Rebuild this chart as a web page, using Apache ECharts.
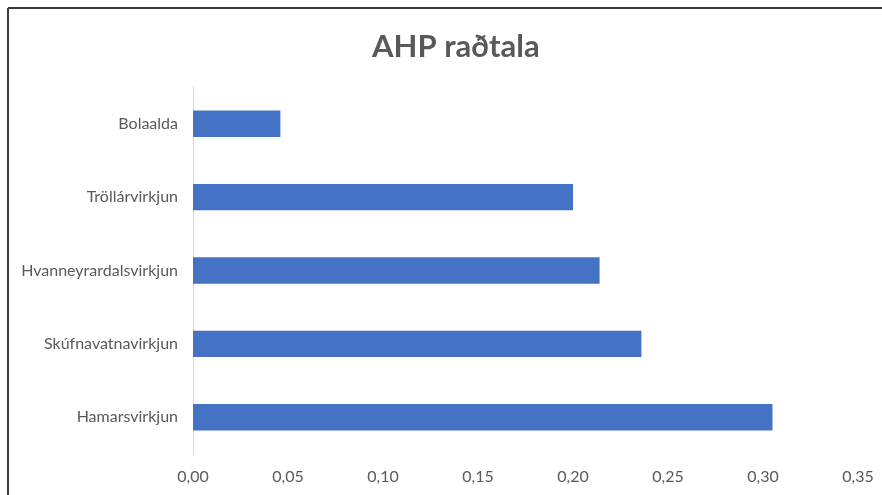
<!DOCTYPE html>
<html>
<head>
<meta charset="utf-8">
<script src="https://cdn.jsdelivr.net/npm/echarts@6/dist/echarts.min.js"></script>
<style>
  html, body { margin: 0; padding: 0; background: #ffffff; }
  #chart { width: 882px; height: 495px; }
</style>
</head>
<body>
<div id="chart"></div>
<script>
// Categories listed bottom to top, as the category axis draws them
const categories = ['Hamarsvirkjun', 'Skúfnavatnavirkjun', 'Hvanneyrardalsvirkjun', 'Tröllárvirkjun', 'Bolaalda'];
const ahpValues = [0.305, 0.236, 0.214, 0.200, 0.046];
const xTicks = { min: 0, max: 0.35, interval: 0.05 };
const titleText = 'AHP raðtala';

const chart = echarts.init(document.getElementById('chart'), null, { renderer: 'canvas' });
const labelFont = 'Lato, "Noto Sans", sans-serif';

chart.setOption({
  animation: false,
  backgroundColor: '#ffffff',
  title: {
    text: titleText,
    left: 367,
    top: 26,
    textStyle: { fontFamily: labelFont, fontSize: 31, fontWeight: 'bold', color: '#595959' }
  },
  grid: { left: 193, right: 24, top: 87, bottom: 41, containLabel: false },
  xAxis: {
    type: 'value',
    min: xTicks.min,
    max: xTicks.max,
    interval: xTicks.interval,
    axisLine: { show: false },
    axisTick: { show: false },
    splitLine: { show: false },
    axisLabel: {
      margin: 15,
      color: '#595959',
      fontFamily: labelFont,
      fontSize: 16,
      formatter: v => v.toFixed(2).replace('.', ',')
    }
  },
  yAxis: {
    type: 'category',
    data: categories,
    axisLine: { show: true, lineStyle: { color: '#d9d9d9', width: 1 } },
    axisTick: { show: false },
    axisLabel: { margin: 15, color: '#595959', fontFamily: labelFont, fontSize: 16 }
  },
  series: [{
    type: 'bar',
    data: ahpValues,
    barWidth: '36%',
    itemStyle: { color: '#4472C4' }
  }],
  graphic: [
    // frame edges along the left and top
    { type: 'line', shape: { x1: 8, y1: 8, x2: 8, y2: 495 }, style: { stroke: '#3a3a3a', lineWidth: 2 } },
    { type: 'line', shape: { x1: 8, y1: 8, x2: 882, y2: 8 }, style: { stroke: '#3a3a3a', lineWidth: 2 } }
  ]
});
</script>
</body>
</html>
